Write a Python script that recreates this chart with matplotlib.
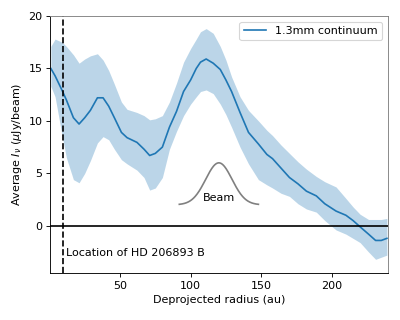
import numpy as np
import matplotlib
matplotlib.use("Agg")
import matplotlib.pyplot as plt

radius = [1, 4, 9, 12, 17, 21, 25, 29, 34, 38, 42, 46, 51, 55, 62, 67, 71, 75, 80, 85,
          90, 95, 100, 104, 107, 111, 116, 121, 125, 129, 135, 141, 148, 154, 158, 164,
          170, 176, 182, 189, 195, 203, 210, 215, 220, 226, 231, 235, 239]
mean = [15.0, 14.3, 12.9, 12.0, 10.3, 9.7, 10.3, 11.0, 12.2, 12.2, 11.4, 10.3, 8.9, 8.4,
        7.95, 7.3, 6.7, 6.9, 7.5, 9.4, 10.9, 12.8, 13.9, 15.0, 15.6, 15.9, 15.5, 14.9,
        13.9, 12.8, 10.8, 8.9, 7.8, 6.8, 6.4, 5.5, 4.6, 4.0, 3.3, 2.85, 2.1, 1.4, 1.0,
        0.5, -0.1, -0.8, -1.4, -1.4, -1.2]
upper = [17.1, 17.8, 17.5, 17.1, 16.3, 15.5, 15.9, 16.2, 16.4, 15.8, 14.8, 13.5, 11.8,
         11.1, 10.8, 10.5, 10.1, 10.2, 10.5, 11.8, 13.6, 15.6, 16.9, 17.8, 18.5, 18.8,
         18.35, 17.1, 15.8, 14.2, 12.3, 11.0, 10.0, 9.1, 8.6, 7.7, 6.9, 6.1, 5.4, 4.7,
         4.2, 3.7, 2.6, 1.8, 1.1, 0.6, 0.6, 0.6, 0.7]
lower = [13.3, 12.3, 8.6, 6.5, 4.4, 4.1, 5.0, 6.2, 7.9, 8.5, 8.2, 7.3, 6.3, 5.9, 5.3,
         4.6, 3.4, 3.6, 4.6, 7.3, 9.0, 10.5, 11.6, 12.3, 12.8, 12.95, 12.6, 11.6, 10.6,
         9.4, 7.5, 5.9, 4.4, 3.9, 3.6, 3.1, 2.8, 2.1, 1.6, 1.3, 0.5, -0.4, -0.8, -1.2,
         -1.6, -2.5, -3.2, -3.0, -2.8]

planet_r = 9.5
beam_center, beam_fwhm, beam_amp, beam_base = 120, 22, 4.0, 2.0
beam_range = (92, 148)

fig = plt.figure(figsize=(5, 4), dpi=80)
ax = fig.add_axes([0.126, 0.147, 0.843, 0.803])

ax.fill_between(radius, lower, upper, color='C0', alpha=0.3, lw=0)
ax.plot(radius, mean, color='C0', lw=1.5, label='1.3mm continuum')
ax.axhline(0, color='k', lw=1.5)
ax.axvline(planet_r, color='k', ls='--', lw=1.5)

bx = np.linspace(beam_range[0], beam_range[1], 200)
sig = beam_fwhm / 2.3548
by = beam_base + beam_amp * np.exp(-(bx - beam_center) ** 2 / (2 * sig ** 2))
ax.plot(bx, by, color='gray', lw=1.5)
ax.text(beam_center, 2.6, 'Beam', ha='center', va='center', fontsize=10)
ax.text(planet_r + 2.5, -2.6, 'Location of HD 206893 B', ha='left', va='center', fontsize=10)

ax.set_xlim(0.7, 239.5)
ax.set_ylim(-4.5, 20)
ax.set_xticks([50, 100, 150, 200])
ax.set_yticks([0, 5, 10, 15, 20])
ax.set_xlabel('Deprojected radius (au)')
ax.set_ylabel(r'Average $I_\nu$ ($\mu$Jy/beam)')
ax.spines['top'].set_color('gray')
ax.spines['right'].set_color('gray')
ax.legend(loc='upper right')

fig.savefig('out.png', dpi=80)
